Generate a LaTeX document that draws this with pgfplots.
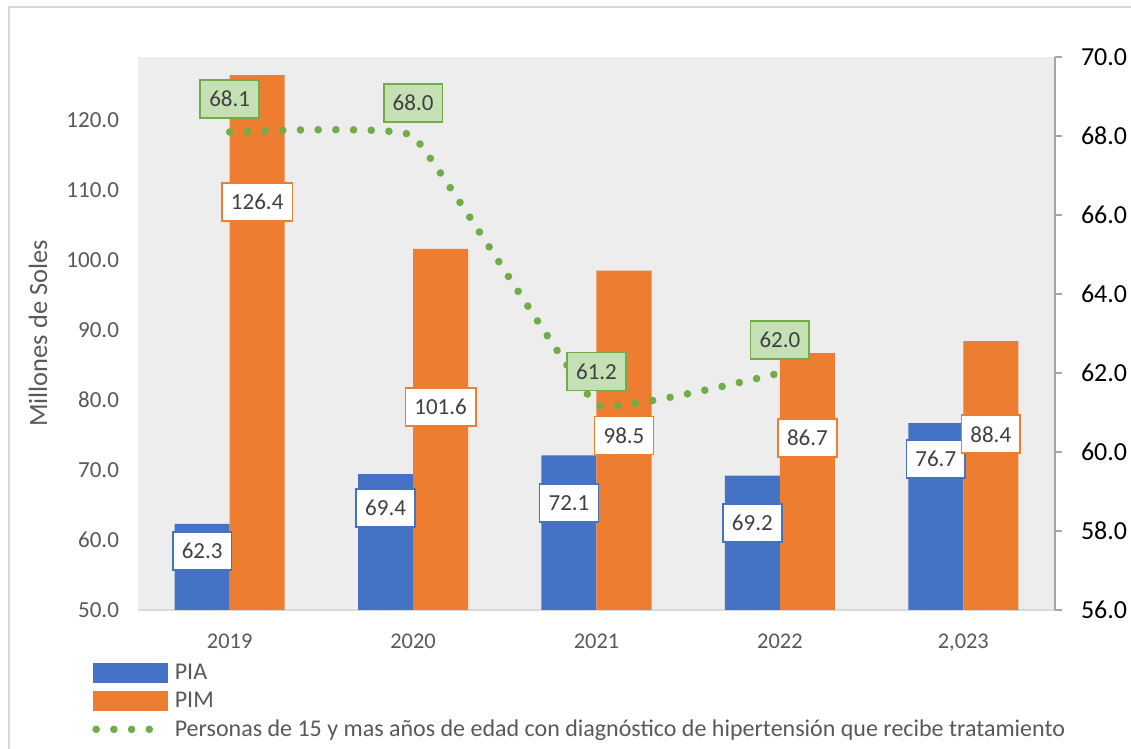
\documentclass[border=0pt]{standalone}
\usepackage{fontspec}
\setmainfont{Carlito}
\usepackage{pgfplots}
\pgfplotsset{compat=1.18}
\definecolor{piablue}{HTML}{4472C4}
\definecolor{pimorange}{HTML}{ED7D31}
\definecolor{lgreen}{HTML}{70AD47}
\definecolor{lgreenfill}{HTML}{C5E0B4}
\definecolor{plotbg}{HTML}{EDEDED}
\definecolor{tickgray}{HTML}{595959}
\definecolor{labgray}{HTML}{404040}
\definecolor{axislight}{HTML}{D9D9D9}
\definecolor{axisgray}{HTML}{A6A6A6}
\definecolor{bordergray}{HTML}{D9D9D9}
\begin{document}
\begin{tikzpicture}
\useasboundingbox (-69pt,-69.5pt) rectangle (496.5pt,305pt);
\fill[white] (-69pt,-69.5pt) rectangle (496.5pt,305pt);
\draw[bordergray, line width=1.2pt] (-64.5pt,-69.5pt) -- (-64.5pt,301.5pt) -- (496.5pt,301.5pt);
\begin{axis}[
  at={(0,0)}, anchor=south west, scale only axis,
  width=458.5pt, height=276.5pt,
  xmin=-0.5, xmax=4.5, ymin=50, ymax=129,
  axis background/.style={fill=plotbg},
  axis x line*=bottom, axis y line*=left,
  x axis line style={-, draw=axislight, line width=1pt},
  y axis line style={draw=none},
  tick style={draw=none},
  xtick={0,1,2,3,4},
  xticklabels={2019,2020,2021,2022,{2,023}},
  xticklabel style={font=\fontsize{11.2}{13}\selectfont, text=tickgray, yshift=-8.5pt},
  ytick={50,60,...,120},
  /pgf/number format/assume math mode=true,
  yticklabel style={/pgf/number format/.cd, fixed, fixed zerofill, precision=1, /tikz/.cd,
    font=\fontsize{11.5}{13}\selectfont, text=tickgray, xshift=-6pt},
  ylabel={Millones de Soles},
  ylabel style={at={(axis description cs:-0.109,0.5)}, anchor=center,
    font=\fontsize{13.2}{15}\selectfont, text=tickgray},
  clip=true,
]
\addplot[ybar, bar width=0.3, bar shift=-0.15, fill=piablue, draw=none]
  coordinates {(0,62.3) (1,69.4) (2,72.1) (3,69.2) (4,76.7)};
\addplot[ybar, bar width=0.3, bar shift=0.15, fill=pimorange, draw=none]
  coordinates {(0,126.4) (1,101.6) (2,98.5) (3,86.7) (4,88.4)};
% data labels (positions as placed in the original chart)
\addplot[draw=none, mark=none, nodes near coords, point meta=explicit symbolic,
  every node near coord/.style={anchor=center, fill=white, draw=piablue, line width=0.8pt,
    text=labgray, font=\fontsize{11.5}{13}\selectfont, inner xsep=4.5pt, inner ysep=0pt,
    minimum height=19pt}]
  table[meta=lab] {
x y lab
-0.15 58.4 62.3
0.85 64.6 69.4
1.85 65.3 72.1
2.85 62.4 69.2
3.85 71.6 76.7
};
\addplot[draw=none, mark=none, nodes near coords, point meta=explicit symbolic,
  every node near coord/.style={anchor=center, fill=white, draw=pimorange, line width=0.8pt,
    text=labgray, font=\fontsize{11.5}{13}\selectfont, inner xsep=4.5pt, inner ysep=0pt,
    minimum height=19pt}]
  table[meta=lab] {
x y lab
0.15 108.3 126.4
1.15 79.0 101.6
2.15 74.9 98.5
3.15 74.6 86.7
4.15 75.1 88.4
};
\end{axis}
\begin{axis}[
  at={(0,0)}, anchor=south west, scale only axis,
  width=458.5pt, height=276.5pt,
  xmin=-0.5, xmax=4.5, ymin=56, ymax=70,
  axis x line=none, axis y line*=right,
  y axis line style={-, draw=axisgray, line width=0.8pt},
  ytick={56,58,...,70},
  tick align=outside, major tick length=3.5pt,
  ytick style={draw=axisgray, line width=0.8pt},
  /pgf/number format/assume math mode=true,
  yticklabel style={/pgf/number format/.cd, fixed, fixed zerofill, precision=1, /tikz/.cd,
    font=\fontsize{13}{15}\selectfont, text=black, xshift=6pt},
  clip=false,
  legend cell align=left,
  legend style={at={(0,0)}, anchor=north west, xshift=-26pt, yshift=-22.75pt,
    draw=none, fill=none, font=\fontsize{12}{14}\selectfont, text=tickgray,
    row sep=0.7pt},
]
\addlegendimage{legend image code/.code={\fill[piablue] (0pt,-4.75pt) rectangle (37pt,4.75pt);}}
\addlegendentry{PIA}
\addlegendimage{legend image code/.code={\fill[pimorange] (0pt,-4.75pt) rectangle (37pt,4.75pt);}}
\addlegendentry{PIM}
\addplot[lgreen, line width=3.8pt, line cap=round, dash pattern=on 0pt off 8.85pt,
  smooth, tension=0.15, mark=none,
  legend image code/.code={\draw[lgreen, line width=3.8pt, line cap=round, dash pattern=on 0pt off 8.85pt] (1.6pt,0pt) -- (28.5pt,0pt); \path (37pt,0pt);},
  nodes near coords, point meta=explicit symbolic,
  every node near coord/.style={anchor=center, yshift=16.5pt, fill=lgreenfill, draw=lgreen,
    solid, line width=0.9pt, text=labgray, font=\fontsize{11.5}{13}\selectfont,
    inner xsep=4.5pt, inner ysep=0pt, minimum height=19pt}]
  table[meta=lab] {
x y lab
0 68.1 68.1
1 68.0 68.0
2 61.2 61.2
3 62.0 62.0
};
\addlegendentry{Personas de 15 y mas años de edad con diagnóstico de hipertensión que recibe tratamiento}
\end{axis}
\end{tikzpicture}
\end{document}
